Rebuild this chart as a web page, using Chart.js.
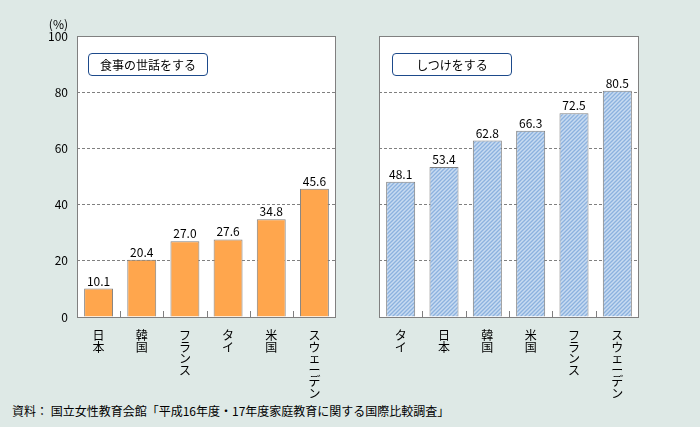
<!DOCTYPE html>
<html>
<head>
<meta charset="utf-8">
<script src="https://cdn.jsdelivr.net/npm/chart.js"></script>
<style>
  body { margin: 0; background: #dee9e6; font-family: 'Noto Sans CJK JP', sans-serif; }
  #wrap { position: relative; width: 700px; height: 427px; overflow: hidden; }
  canvas { position: absolute; top: 0; }
  .unit { position: absolute; right: 632px; top: 15px; font-size: 12px; color: #000; }
  .tag {
    position: absolute; top: 53px; width: 118px; height: 21px;
    border: 1.5px solid #1d4a8b; border-radius: 4px; background: #fff;
    font-size: 12px; line-height: 21px; text-align: center; color: #000;
  }
  .note { position: absolute; left: 12px; top: 402px; font-size: 12px; color: #000; }
</style>
</head>
<body>
<div id="wrap">
  <canvas id="graph-1" width="345" height="400" style="left:0"></canvas>
  <canvas id="graph-2" width="355" height="400" style="left:345px"></canvas>
  <div class="unit">(%)</div>
  <div class="tag" style="left:88px">食事の世話をする</div>
  <div class="tag" style="left:392px">しつけをする</div>
  <div class="note">資料：&nbsp;国立女性教育会館「平成16年度・17年度家庭教育に関する国際比較調査」</div>
</div>
<script>
const leftLabels = ['日本', '韓国', 'フランス', 'タイ', '米国', 'スウェーデン'];
const leftValues = [10.1, 20.4, 27.0, 27.6, 34.8, 45.6];

const rightLabels = ['タイ', '日本', '韓国', '米国', 'フランス', 'スウェーデン'];
const rightValues = [48.1, 53.4, 62.8, 66.3, 72.5, 80.5];

const yMin = 0;
const yMax = 100;
const yStep = 20;

const font = "'Noto Sans CJK JP', sans-serif";
const gray = '#808080';
const orange = '#ffa64d';

Chart.defaults.font.family = font;
Chart.defaults.font.size = 12;
Chart.defaults.color = '#000';

const makeStripes = () => {
  const c = document.createElement('canvas');
  c.width = 4;
  c.height = 4;
  const g = c.getContext('2d');
  g.fillStyle = '#c8dbf1';
  g.fillRect(0, 0, 4, 4);
  g.strokeStyle = '#8cb2df';
  g.lineWidth = 1.3;
  g.beginPath();
  g.moveTo(-1, 5); g.lineTo(5, -1);
  g.moveTo(-1, 1); g.lineTo(1, -1);
  g.moveTo(3, 5); g.lineTo(5, 3);
  g.stroke();
  return g.createPattern(c, 'repeat');
};

// white plot area, frame, little ticks between bars, value labels
const panel = {
  id: 'panel',
  beforeDraw: (chart) => {
    const { ctx, chartArea: a } = chart;
    ctx.save();
    ctx.fillStyle = '#fff';
    ctx.fillRect(a.left, a.top, a.right - a.left, a.bottom - a.top);
    ctx.restore();
  },
  afterDatasetsDraw: (chart) => {
    const { ctx, chartArea: a } = chart;
    const x = chart.scales.x;
    ctx.save();
    ctx.strokeStyle = gray;
    ctx.lineWidth = 1;
    ctx.beginPath();
    for (let i = 1; i < x.ticks.length; i++) {
      const px = Math.round((x.getPixelForTick(i - 1) + x.getPixelForTick(i)) / 2) + 0.5;
      ctx.moveTo(px, a.bottom);
      ctx.lineTo(px, a.bottom - 6);
    }
    ctx.stroke();
    ctx.strokeRect(Math.round(a.left) + 0.5, Math.round(a.top) + 0.5,
      Math.round(a.right - a.left) - 1, Math.round(a.bottom - a.top));

    ctx.fillStyle = '#000';
    ctx.font = `12px ${font}`;
    ctx.textAlign = 'center';
    ctx.textBaseline = 'alphabetic';
    const meta = chart.getDatasetMeta(0);
    const data = chart.data.datasets[0].data;
    meta.data.forEach((bar, i) => {
      ctx.fillText(data[i].toFixed(1), bar.x, bar.y - 3);
    });
    ctx.restore();
  }
};

const makeOptions = (showTicks, padding) => ({
  responsive: false,
  animation: false,
  layout: { padding },
  plugins: { legend: { display: false }, tooltip: { enabled: false } },
  scales: {
    x: {
      grid: { display: false },
      border: { display: false },
      ticks: { autoSkip: false, maxRotation: 0, minRotation: 0, padding: 5,
        font: { size: 12, lineHeight: 0.96 } },
      afterFit: (scale) => { scale.height = 83; }
    },
    y: {
      min: yMin,
      max: yMax,
      border: { display: false, dash: [3, 2] },
      grid: {
        drawTicks: false,
        color: (ctx) => (ctx.tick.value === yMin || ctx.tick.value === yMax) ? 'rgba(0,0,0,0)' : gray
      },
      ticks: { display: showTicks, stepSize: yStep, padding: 9 },
      afterFit: (scale) => { scale.width = showTicks ? 77 : 34; }
    }
  }
});

new Chart(document.getElementById('graph-1'), {
  type: 'bar',
  data: {
    labels: leftLabels.map((l) => [...l]),
    datasets: [{
      data: leftValues,
      backgroundColor: orange,
      borderColor: gray,
      borderWidth: 1,
      barPercentage: 0.67,
      categoryPercentage: 1
    }]
  },
  options: makeOptions(true, { top: 36, right: 9, left: 0, bottom: 0 }),
  plugins: [panel]
});

const stripes = makeStripes();

new Chart(document.getElementById('graph-2'), {
  type: 'bar',
  data: {
    labels: rightLabels.map((l) => [...l]),
    datasets: [{
      data: rightValues,
      backgroundColor: stripes,
      borderColor: gray,
      borderWidth: 1,
      barPercentage: 0.67,
      categoryPercentage: 1
    }]
  },
  options: makeOptions(false, { top: 36, right: 61, left: 0, bottom: 0 }),
  plugins: [panel]
});
</script>
</body>
</html>
